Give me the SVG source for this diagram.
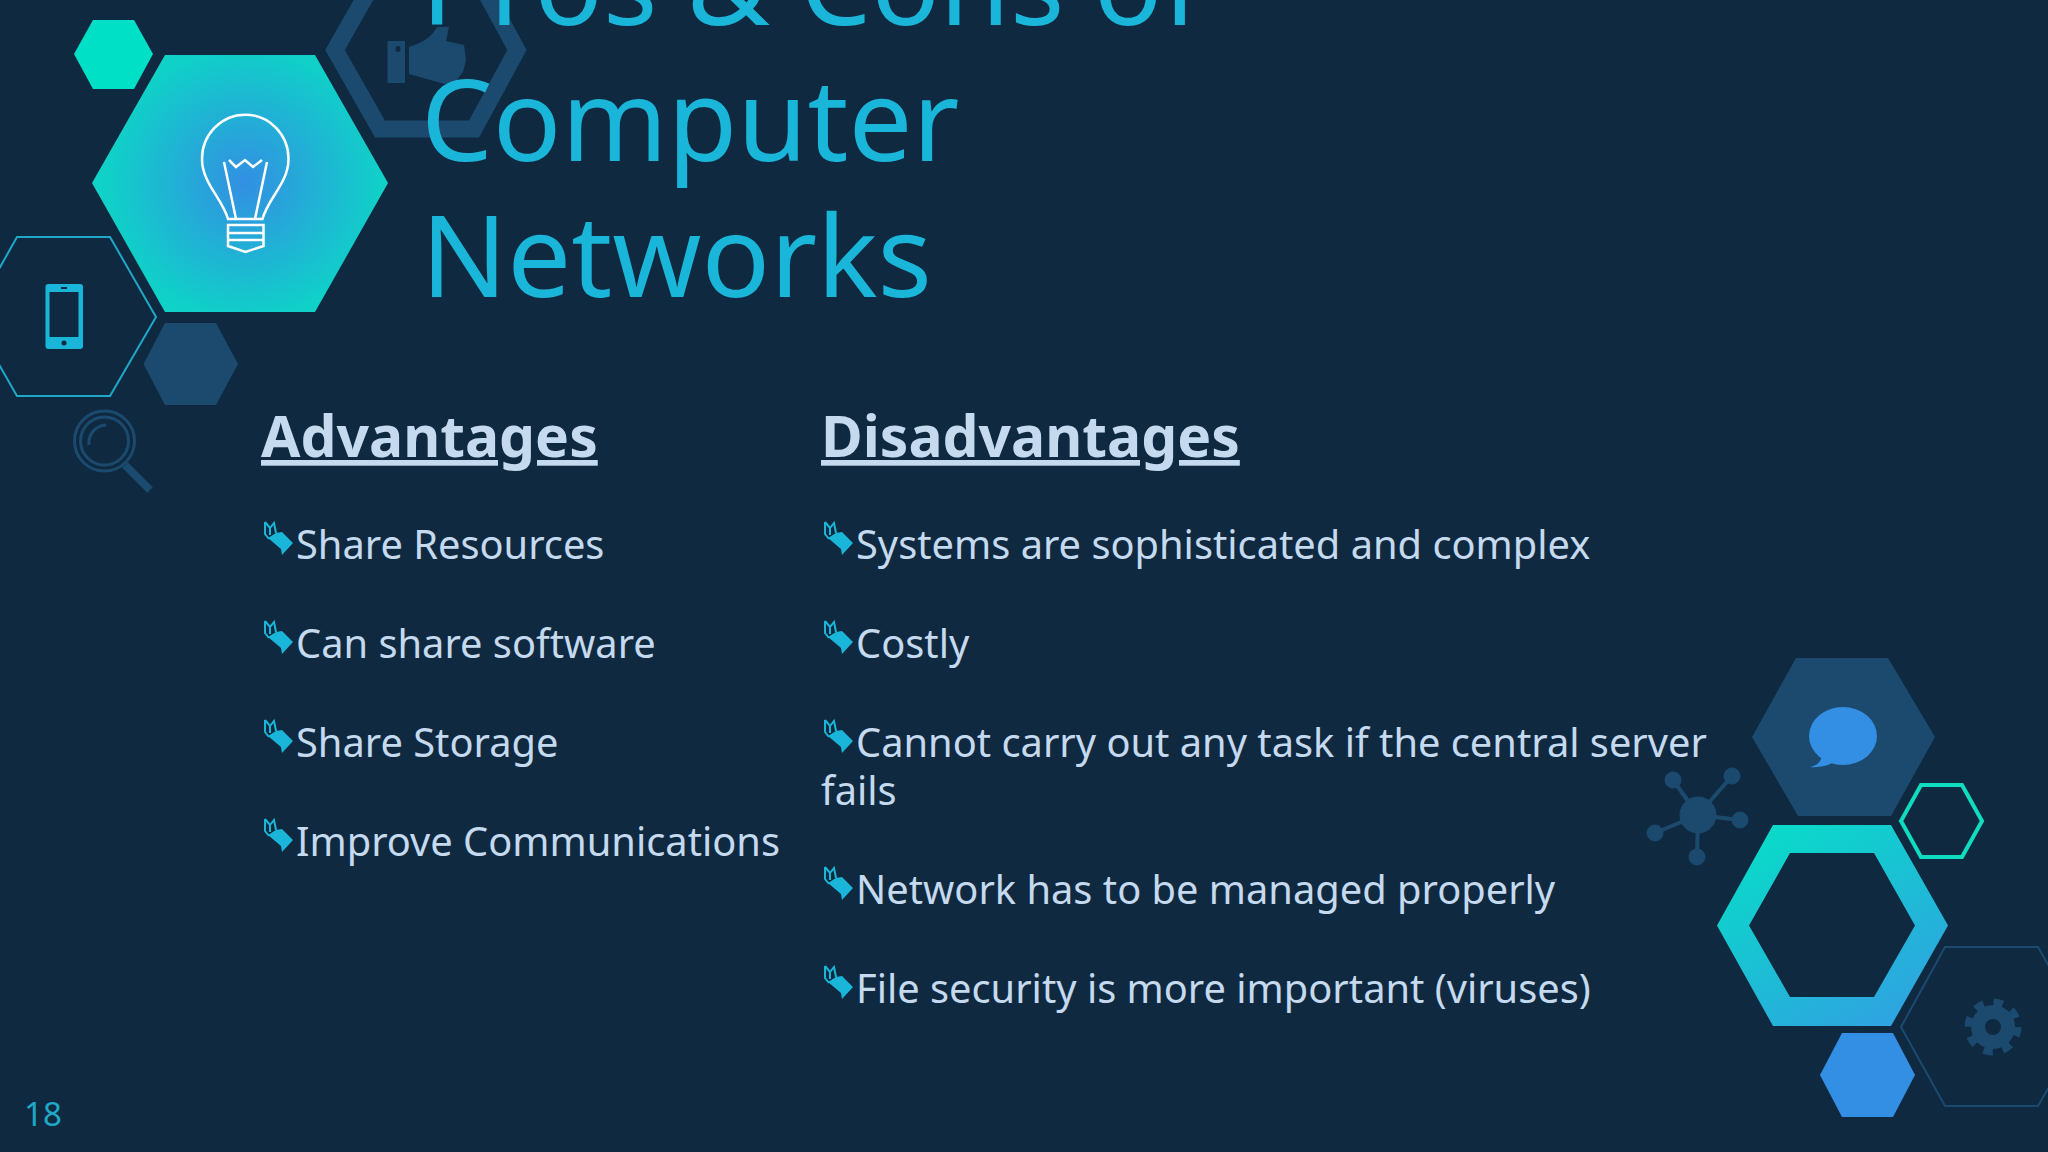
<svg xmlns="http://www.w3.org/2000/svg" xmlns:xlink="http://www.w3.org/1999/xlink" width="2048" height="1152" viewBox="0 0 2048 1152">
<style>
text{font-family:"Noto Sans","Open Sans","DejaVu Sans",sans-serif}
.title{font-size:113.500px;fill:#1ab6da}
.head{font-size:57px;font-weight:700;fill:#c5d9ef;text-decoration:underline}
.body{font-size:39.800px;fill:#c5d9ef}
.dark{fill:#1b4a6e}
.darkline{fill:none;stroke:#1b4a6e}
</style>
<defs>
<radialGradient id="g1" gradientUnits="userSpaceOnUse" cx="245" cy="183" r="160">
<stop offset="0" stop-color="#338fe3"/><stop offset="0.85" stop-color="#10d0c8"/><stop offset="1" stop-color="#10d4c8"/>
</radialGradient>
<linearGradient id="g2" gradientUnits="userSpaceOnUse" x1="1760" y1="825" x2="1880" y2="1026">
<stop offset="0" stop-color="#08dcc8"/><stop offset="1" stop-color="#2ea4e0"/>
</linearGradient>
<g id="bullet">
<path d="M1 0V12L5 17M1 0L6 6L10 1L12 11M6 6V13" fill="none" stroke="#1ab6da" stroke-width="2"/>
<path d="M12 11L18 10L29 21L18 33L17 27L4 16Z" fill="#1ab6da"/>
</g>
</defs>
<rect width="2048" height="1152" fill="#0f2a40"/>

<g id="hex-thumb">
<path d="M517 50L474 129H380L335 50L380 -29H474Z" class="darkline" stroke-width="17"/>
<path d="M387.500 41H405V83H387.500Z M398 46a2.500 3 0 0 0 0 6a2.500 3 0 0 0 0-6Z" class="dark" fill-rule="evenodd"/>
<path d="M409 47C425 42 432 36 437 27H449L446 41L464 45L466 60L463 72L452 86L409 74Z" class="dark"/>
</g>
<g id="title">
<text class="title" x="421" y="25">Pros &amp; Cons of</text>
<text class="title" x="421" y="161">Computer</text>
<text class="title" x="421" y="297">Networks</text>
</g>
<g id="hex-small-teal"><path d="M93 20H134L153 54L134 89H93L74 54Z" fill="#00e0c6"/></g>
<g id="hex-bulb">
<path d="M165 55H315L388 183L315 312H165L92 183Z" fill="url(#g1)"/>
<g fill="none" stroke="#fff" stroke-width="2.500">
<path d="M228 219C222 198 202 183 202 159A43 44 0 0 1 288.500 159C288.500 183 268 198 262.500 219Z"/>
<path d="M224 162L236 219M267 162L255 219"/>
<path d="M229 160L236 167L245 160L253 167L262 160"/>
<path d="M228 225H263.500V246L245.500 252L228 246Z"/>
<path d="M228 233H263.500M228 240H263.500"/>
</g>
</g>
<g id="hex-phone">
<path d="M17 237H110L156 317L110 396H17L-28 317Z" fill="none" stroke="#1fa8c8" stroke-width="2"/>
<rect x="45.500" y="284" width="37.500" height="65" rx="3" fill="#1ab6da"/>
<rect x="49.500" y="292" width="29" height="45" fill="#0f2a40"/>
<circle cx="64" cy="343" r="2.500" fill="#0f2a40"/>
<rect x="61" y="287" width="6" height="2" fill="#0f2a40"/>
</g>
<g id="hex-dark"><path d="M165 323H216L238 364L216 405H165L143.500 364Z" class="dark"/></g>
<g id="magnifier">
<circle cx="104.500" cy="441" r="30" class="darkline" stroke-width="3"/>
<circle cx="104.500" cy="441" r="24" class="darkline" stroke-width="3"/>
<path d="M89 445A18 18 0 0 1 106 425" class="darkline" stroke-width="3"/>
<path d="M125 465L150 490" class="darkline" stroke-width="8"/>
</g>

<g id="advantages">
<text class="head" x="261" y="457">Advantages</text>
<use xlink:href="#bullet" x="264" y="522"/><text class="body" x="296" y="559">Share Resources</text>
<use xlink:href="#bullet" x="264" y="621"/><text class="body" x="296" y="658">Can share software</text>
<use xlink:href="#bullet" x="264" y="720"/><text class="body" x="296" y="757">Share Storage</text>
<use xlink:href="#bullet" x="264" y="819"/><text class="body" x="296" y="856">Improve Communications</text>
</g>
<g id="disadvantages">
<text class="head" x="821" y="457">Disadvantages</text>
<use xlink:href="#bullet" x="824" y="522"/><text class="body" x="856" y="559">Systems are sophisticated and complex</text>
<use xlink:href="#bullet" x="824" y="621"/><text class="body" x="856" y="658">Costly</text>
<use xlink:href="#bullet" x="824" y="720"/><text class="body" x="856" y="757">Cannot carry out any task if the central server</text>
<text class="body" x="821" y="805">fails</text>
<use xlink:href="#bullet" x="824" y="867"/><text class="body" x="856" y="904">Network has to be managed properly</text>
<use xlink:href="#bullet" x="824" y="966"/><text class="body" x="856" y="1003">File security is more important (viruses)</text>
</g>

<g id="network-icon" fill="#1b4a6e" stroke="#1b4a6e">
<circle cx="1698" cy="815" r="18"/>
<circle cx="1673" cy="780" r="8"/><circle cx="1732" cy="776" r="8"/><circle cx="1740" cy="820" r="8"/><circle cx="1697" cy="857" r="8"/><circle cx="1655" cy="833" r="8"/>
<path d="M1698 815L1673 780M1698 815L1732 776M1698 815L1740 820M1698 815L1697 857M1698 815L1655 833" stroke-width="4"/>
</g>
<g id="hex-chat">
<path d="M1796 658H1888L1935 737L1891 816H1798L1752 737Z" class="dark"/>
<ellipse cx="1843" cy="736" rx="34" ry="29" fill="#338fe3"/>
<path d="M1822 752C1822 762 1818 765 1810 767C1820 768 1830 765 1836 761Z" fill="#338fe3"/>
</g>
<g id="hex-outline-teal"><path d="M1921 785H1962L1982 821L1962 857H1921L1901 821Z" fill="none" stroke="#10dcc0" stroke-width="4"/></g>
<g id="hex-ring"><path d="M1773 825H1891L1948 925.500L1891 1026H1773L1717 925.500Z M1790 853L1749 925.500L1790 997H1874L1915 925.500L1874 853Z" fill="url(#g2)" fill-rule="evenodd"/></g>
<g id="hex-blue"><path d="M1842 1033H1893L1915 1075L1893 1117H1842L1820 1075Z" fill="#338fe3"/></g>
<g id="hex-gear">
<path d="M1945 947H2038L2084 1027L2038 1106H1945L1901 1027Z" class="darkline" stroke-width="2"/>
<circle cx="1993" cy="1027" r="22" class="dark"/>
<circle cx="1993" cy="1027" r="24.500" class="darkline" stroke-width="8" stroke-dasharray="9.240 9.980"/>
<circle cx="1993" cy="1027" r="8" fill="#0f2a40"/>
</g>
<g id="page-number"><text x="24" y="1126" font-size="33" fill="#1fa8c8">18</text></g>
</svg>
